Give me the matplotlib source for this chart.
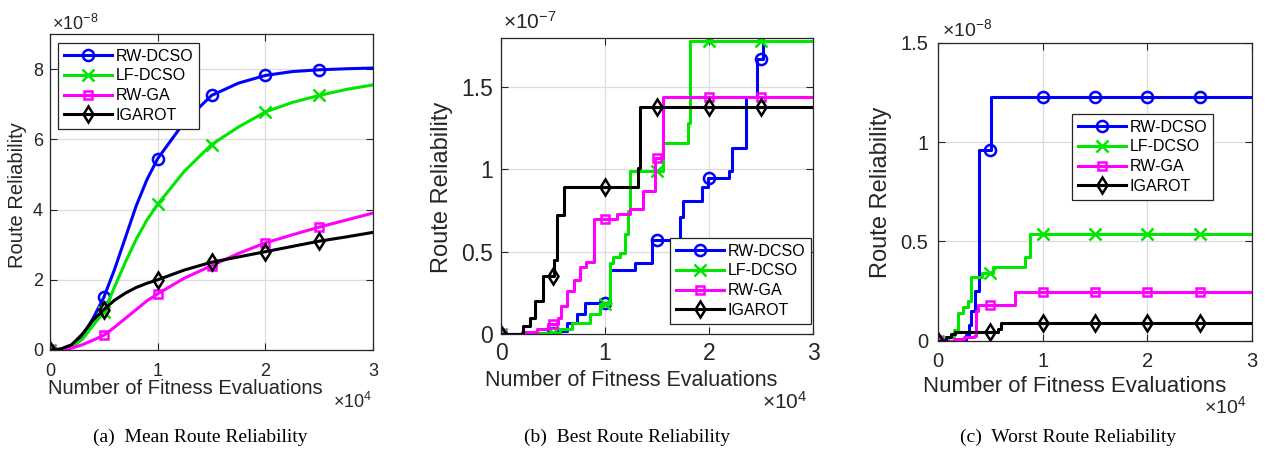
import numpy as np
import matplotlib
matplotlib.use("Agg")
import matplotlib.pyplot as plt
from matplotlib.lines import Line2D

# -------------------
# Data (x in units of 1e4 fitness evaluations)
# -------------------
names = ["RW-DCSO", "LF-DCSO", "RW-GA", "IGAROT"]
marker_x = [0, 0.5, 1.0, 1.5, 2.0, 2.5]

# (a) mean route reliability, x1e-8
mean_x = [0, 0.1, 0.2, 0.3, 0.4, 0.5, 0.6, 0.7, 0.8, 0.9, 1.0, 1.25, 1.5, 1.75, 2.0, 2.25, 2.5, 2.75, 3.0]
mean_rw_dcso = [0, 0.02, 0.1, 0.4, 0.9, 1.5, 2.3, 3.2, 4.1, 4.85, 5.45, 6.5, 7.25, 7.6, 7.82, 7.93, 7.98, 8.01, 8.03]
mean_lf_dcso = [0, 0.02, 0.08, 0.3, 0.7, 1.08, 1.8, 2.5, 3.15, 3.7, 4.15, 5.1, 5.85, 6.35, 6.78, 7.05, 7.25, 7.42, 7.55]
mean_rw_ga = [0, 0.0, 0.05, 0.15, 0.28, 0.42, 0.65, 0.9, 1.15, 1.4, 1.6, 2.05, 2.4, 2.75, 3.05, 3.28, 3.5, 3.7, 3.9]
mean_igarot = [0, 0.03, 0.15, 0.45, 0.85, 1.15, 1.42, 1.62, 1.78, 1.9, 2.0, 2.28, 2.5, 2.65, 2.8, 2.95, 3.1, 3.22, 3.35]

# (b) best route reliability, x1e-7 (step data: value holds until next x)
best_rw_dcso_x = [0, 0.4, 0.55, 0.63, 0.73, 0.81, 1.05, 1.29, 1.45, 1.72, 1.75, 1.93, 1.99, 2.19, 2.22, 2.36, 2.46, 2.52, 3.0]
best_rw_dcso = [0, 0.005, 0.02, 0.066, 0.12, 0.19, 0.39, 0.43, 0.57, 0.71, 0.81, 0.89, 0.95, 0.99, 1.13, 1.44, 1.67, 1.78, 1.78]
best_lf_dcso_x = [0, 0.3, 0.57, 0.68, 0.86, 0.95, 1.05, 1.08, 1.14, 1.19, 1.22, 1.24, 1.56, 1.80, 1.82, 3.0]
best_lf_dcso = [0, 0.005, 0.03, 0.066, 0.12, 0.18, 0.43, 0.47, 0.49, 0.61, 0.75, 0.99, 1.16, 1.28, 1.78, 1.78]
best_rw_ga_x = [0, 0.2, 0.35, 0.45, 0.55, 0.58, 0.63, 0.7, 0.76, 0.82, 0.89, 1.12, 1.24, 1.37, 1.48, 1.56, 3.0]
best_rw_ga = [0, 0.01, 0.03, 0.06, 0.1, 0.17, 0.26, 0.33, 0.41, 0.44, 0.70, 0.73, 0.76, 0.87, 1.07, 1.44, 1.44]
best_igarot_x = [0, 0.21, 0.28, 0.33, 0.40, 0.51, 0.54, 0.61, 1.32, 1.34, 3.0]
best_igarot = [0, 0.05, 0.1, 0.2, 0.35, 0.45, 0.72, 0.89, 1.01, 1.38, 1.38]

# (c) worst route reliability, x1e-8
worst_rw_dcso_x = [0, 0.2, 0.27, 0.3, 0.32, 0.35, 0.39, 0.51, 3.0]
worst_rw_dcso = [0, 0.005, 0.03, 0.08, 0.15, 0.25, 0.96, 1.225, 1.225]
worst_lf_dcso_x = [0, 0.1, 0.15, 0.19, 0.24, 0.29, 0.32, 0.42, 0.53, 0.83, 0.88, 3.0]
worst_lf_dcso = [0, 0.02, 0.054, 0.14, 0.17, 0.2, 0.32, 0.34, 0.37, 0.42, 0.535, 0.535]
worst_rw_ga_x = [0, 0.15, 0.25, 0.34, 0.36, 0.38, 0.74, 3.0]
worst_rw_ga = [0, 0.01, 0.02, 0.025, 0.15, 0.18, 0.247, 0.247]
worst_igarot_x = [0, 0.08, 0.12, 0.16, 0.57, 0.6, 3.0]
worst_igarot = [0, 0.02, 0.035, 0.045, 0.06, 0.088, 0.088]

captions = ["(a)  Mean Route Reliability", "(b)  Best Route Reliability", "(c)  Worst Route Reliability"]

# -------------------
# Style
# -------------------
plt.rcParams["font.family"] = ["Liberation Sans", "DejaVu Sans"]
plt.rcParams["mathtext.fontset"] = "custom"
plt.rcParams["mathtext.rm"] = "Liberation Sans"
plt.rcParams["mathtext.it"] = "Liberation Sans:italic"

colors = ["#0000ff", "#00e600", "#ff00ff", "#000000"]
markers = ["o", "x", "s", "d"]
msizes = [8, 9, 6, 8]
DARK = "#262626"
W, H = 1267, 450

fig = plt.figure(figsize=(W / 100, H / 100), dpi=100)


def add_axes(left, top, right, bottom):
    return fig.add_axes([left / W, 1 - bottom / H, (right - left) / W, (bottom - top) / H])


def fig_text(px, py, s, **kw):
    fig.text(px / W, 1 - py / H, s, **kw)


def step_value(xs, ys, xq):
    idx = np.searchsorted(xs, xq, side="right") - 1
    return np.asarray(ys)[idx]


def style_axes(ax, ylim, yticks, tick_size, xpad, ypad):
    ax.set_xlim(0, 3)
    ax.set_ylim(*ylim)
    ax.set_xticks([0, 1, 2, 3])
    ax.set_yticks(yticks)
    ax.set_yticklabels([f"{t:g}" for t in yticks])
    ax.grid(True, color="#dcdcdc", lw=0.9)
    ax.set_axisbelow(True)
    for s in ax.spines.values():
        s.set_color(DARK)
        s.set_linewidth(0.9)
    ax.tick_params(direction="in", top=True, right=True, length=5, width=0.8,
                   colors=DARK, labelsize=tick_size)
    ax.tick_params(axis="x", pad=xpad)
    ax.tick_params(axis="y", pad=ypad)


def add_legend(ax, x0, y0):
    handles = [Line2D([], [], color=c, lw=2.2, marker=m, ms=ms, mfc="none", mew=1.8)
               for c, m, ms in zip(colors, markers, msizes)]
    leg = ax.legend(handles, names, loc="upper left", bbox_to_anchor=(x0 / W, 1 - y0 / H),
                    bbox_transform=fig.transFigure, borderaxespad=0, fontsize=11.5,
                    handlelength=3.0, handletextpad=0.25, labelspacing=0.3,
                    borderpad=0.35, fancybox=False, framealpha=1)
    leg.get_frame().set_edgecolor(DARK)
    leg.get_frame().set_linewidth(0.9)


# -------------------
# (a) Mean
# -------------------
ax = add_axes(50, 34, 373, 350)
mean_series = [mean_rw_dcso, mean_lf_dcso, mean_rw_ga, mean_igarot]
mk_idx = [mean_x.index(m) for m in marker_x]
for ys, c, m, ms in zip(mean_series, colors, markers, msizes):
    ax.plot(mean_x, ys, color=c, lw=2.2, marker=m, ms=ms, mfc="none", mew=1.8, markevery=mk_idx)
style_axes(ax, (0, 9), [0, 2, 4, 6, 8], 13, 9, 5)
add_legend(ax, 58, 43)
fig_text(52, 24, r"$\times10^{-8}$", fontsize=13, color=DARK, va="center")
fig_text(333, 402, r"$\times10^{4}$", fontsize=13, color=DARK, va="center")
fig_text(185, 388, "Number of Fitness Evaluations", fontsize=14.5, color=DARK, ha="center", va="center")
fig_text(18, 195, "Route Reliability", fontsize=14.5, color=DARK, ha="center", va="center", rotation=90)

# -------------------
# (b) Best
# -------------------
ax = add_axes(501, 37.7, 813, 334)
best_series = [(best_rw_dcso_x, best_rw_dcso), (best_lf_dcso_x, best_lf_dcso),
               (best_rw_ga_x, best_rw_ga), (best_igarot_x, best_igarot)]
for (xs, ys), c, m, ms in zip(best_series, colors, markers, msizes):
    ax.plot(xs, ys, color=c, lw=2.2, drawstyle="steps-post")
    ax.plot(marker_x, step_value(xs, ys, marker_x), ls="none", color=c, marker=m,
            ms=ms, mfc="none", mew=1.8)
style_axes(ax, (0, 1.8), [0, 0.5, 1, 1.5], 16.5, 6, 6)
add_legend(ax, 670, 238)
fig_text(503, 22, r"$\times10^{-7}$", fontsize=15, color=DARK, va="center")
fig_text(762, 402, r"$\times10^{4}$", fontsize=15, color=DARK, va="center")
fig_text(631, 381, "Number of Fitness Evaluations", fontsize=15.5, color=DARK, ha="center", va="center")
fig_text(442, 187, "Route Reliability", fontsize=17, color=DARK, ha="center", va="center", rotation=90)

# -------------------
# (c) Worst
# -------------------
ax = add_axes(938, 42.7, 1252, 340.7)
worst_series = [(worst_rw_dcso_x, worst_rw_dcso), (worst_lf_dcso_x, worst_lf_dcso),
                (worst_rw_ga_x, worst_rw_ga), (worst_igarot_x, worst_igarot)]
for (xs, ys), c, m, ms in zip(worst_series, colors, markers, msizes):
    ax.plot(xs, ys, color=c, lw=2.2, drawstyle="steps-post")
    ax.plot(marker_x, step_value(xs, ys, marker_x), ls="none", color=c, marker=m,
            ms=ms, mfc="none", mew=1.8)
style_axes(ax, (0, 1.5), [0, 0.5, 1, 1.5], 14.5, 8, 7)
add_legend(ax, 1072, 114)
fig_text(942, 29, r"$\times10^{-8}$", fontsize=14, color=DARK, va="center")
fig_text(1204, 406, r"$\times10^{4}$", fontsize=14, color=DARK, va="center")
fig_text(1075, 387, "Number of Fitness Evaluations", fontsize=16, color=DARK, ha="center", va="center")
fig_text(881, 192, "Route Reliability", fontsize=17, color=DARK, ha="center", va="center", rotation=90)

# -------------------
# Captions
# -------------------
for cx, cap in zip([200, 627, 1068], captions):
    fig_text(cx, 437, cap, fontsize=14, family="Liberation Serif", ha="center", va="center")

fig.savefig("out.png", dpi=100)
